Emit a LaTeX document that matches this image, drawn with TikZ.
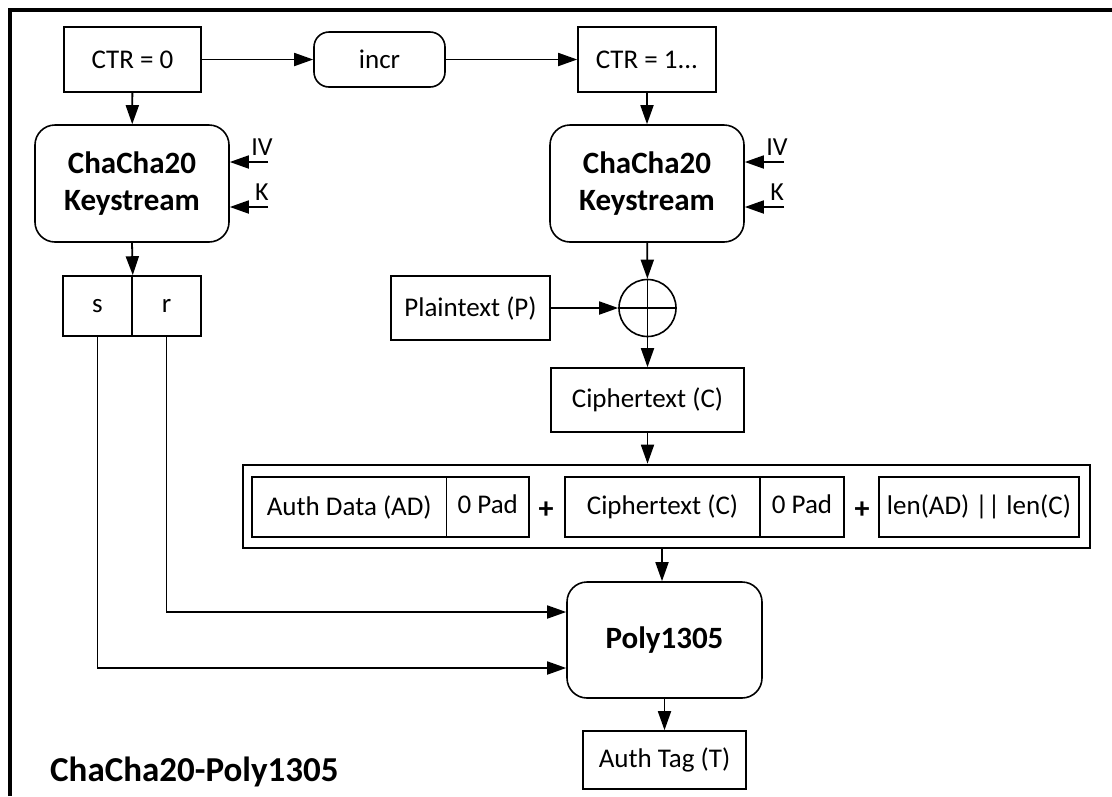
\documentclass[tikz,border=0pt]{standalone}
\usepackage{fontspec}
\setmainfont{Carlito}
\usetikzlibrary{arrows.meta,calc}

\tikzset{
  box/.style={draw, line width=1.6pt, inner sep=0pt, minimum height=60pt,
              font=\fontsize{27}{32}\selectfont},
  roundbox/.style={box, rounded corners=20pt, align=center,
              font=\bfseries\fontsize{31}{37}\selectfont},
  arr/.style={line width=1.8pt, -{Triangle[length=19pt,width=13pt]}},
  wire/.style={line width=1.6pt},
  lbl/.style={inner sep=0pt, font=\fontsize{26}{30}\selectfont},
  plussign/.style={inner sep=0pt, font=\bfseries\fontsize{30}{34}\selectfont},
}

\begin{document}
\begin{tikzpicture}[x=1pt, y=-1pt]
\useasboundingbox (0,0) rectangle (1112,796);

% outer frame (top and left edges)
\draw[line width=4pt] (10,796) -- (10,10) -- (1112,10);

% counter chain
\node[box, minimum width=137pt, minimum height=65pt] (ctr0) at (132.5,59.5) {CTR = 0};
\node[box, rounded corners=15pt, minimum width=131pt, minimum height=55pt] (incr) at (379.5,59.5) {incr};
\node[box, minimum width=138pt, minimum height=65pt] (ctr1) at (647,59.5) {CTR = 1...};

% keystream generators
\node[roundbox, minimum width=194pt, minimum height=117pt] (ccL) at (132,183.5) {ChaCha20\\Keystream};
\node[roundbox, minimum width=194pt, minimum height=117pt] (ccR) at (647,183.5) {ChaCha20\\Keystream};

% IV / K inputs
\coordinate (ivL) at (268,162);
\coordinate (kL)  at (268,207);
\coordinate (ivR) at (784,162);
\coordinate (kR)  at (784,207);
\node[lbl, anchor=base] (ivLl) at (262,155) {IV};
\node[lbl, anchor=base] (kLl)  at (262,200) {K};
\node[lbl, anchor=base] (ivRl) at (777,155) {IV};
\node[lbl, anchor=base] (kRl)  at (777,200) {K};

% one-time key split
\node[box, minimum width=69pt] (s) at (97.5,306) {s};
\node[box, minimum width=69pt] (r) at (166.5,306) {r};

% encryption
\node[box, minimum width=159pt, minimum height=64pt] (plain) at (470.5,308) {Plaintext (P)};
\node[draw, circle, line width=1.6pt, minimum size=57pt, inner sep=0pt] (xor) at (647.5,308) {};
\draw[line width=1.2pt] (xor.west) -- (xor.east) (xor.north) -- (xor.south);
\node[box, minimum width=193pt, minimum height=64pt] (ct) at (647.5,400) {Ciphertext (C)};

% MAC input
\node[draw, line width=2.6pt, minimum width=847pt, minimum height=83pt, inner sep=0pt] (mac) at (666.5,506.5) {};
\node[box, minimum width=194.5pt] (ad) at (349.25,507) {Auth Data (AD)};
\node[box, minimum width=82.5pt] (pad1) at (487.75,507) {\raisebox{5pt}{0 Pad}};
\node[plussign] (plus1) at (546,510) {+};
\node[box, minimum width=195pt] (ct2) at (662.5,507) {Ciphertext (C)};
\node[box, minimum width=84pt] (pad2) at (802,507) {\raisebox{5pt}{0 Pad}};
\node[plussign] (plus2) at (862,510) {+};
\node[box, minimum width=200pt] (len) at (979,507) {len(AD) || len(C)};

% authenticator
\node[roundbox, minimum width=195pt, minimum height=116pt] (poly) at (664.5,640) {Poly1305};
\node[box, minimum width=163pt, minimum height=58pt] (tag) at (664.5,760) {Auth Tag (T)};

% title
\node[inner sep=0pt, anchor=base west, font=\bfseries\fontsize{35}{40}\selectfont] (title) at (50,781) {ChaCha20-Poly1305};

% connectors
\draw[arr] (ctr0) -- (incr);
\draw[arr] (incr) -- (ctr1);
\draw[arr] (ctr0) -- (ccL);
\draw[arr] (ctr1) -- (ccR);
\draw[arr] (ivL) -- (ivL -| ccL.east);
\draw[arr] (kL)  -- (kL -| ccL.east);
\draw[arr] (ivR) -- (ivR -| ccR.east);
\draw[arr] (kR)  -- (kR -| ccR.east);
\draw[arr] (ccL.south) -- (s.north east);
\draw[arr] (ccR) -- (xor);
\draw[arr] (plain) -- (xor);
\draw[arr] (xor) -- (ct);
\draw[arr] (ct.south) -- (ct.south |- mac.north);
\coordinate (macout) at (662,548);
\draw[arr] (macout) -- (macout |- poly.north);
\draw[arr] (r.south) |- (poly.west |- 0,612);
\draw[arr] (s.south) |- (poly.west |- 0,668);
\draw[arr] (poly) -- (tag);
\end{tikzpicture}
\end{document}
